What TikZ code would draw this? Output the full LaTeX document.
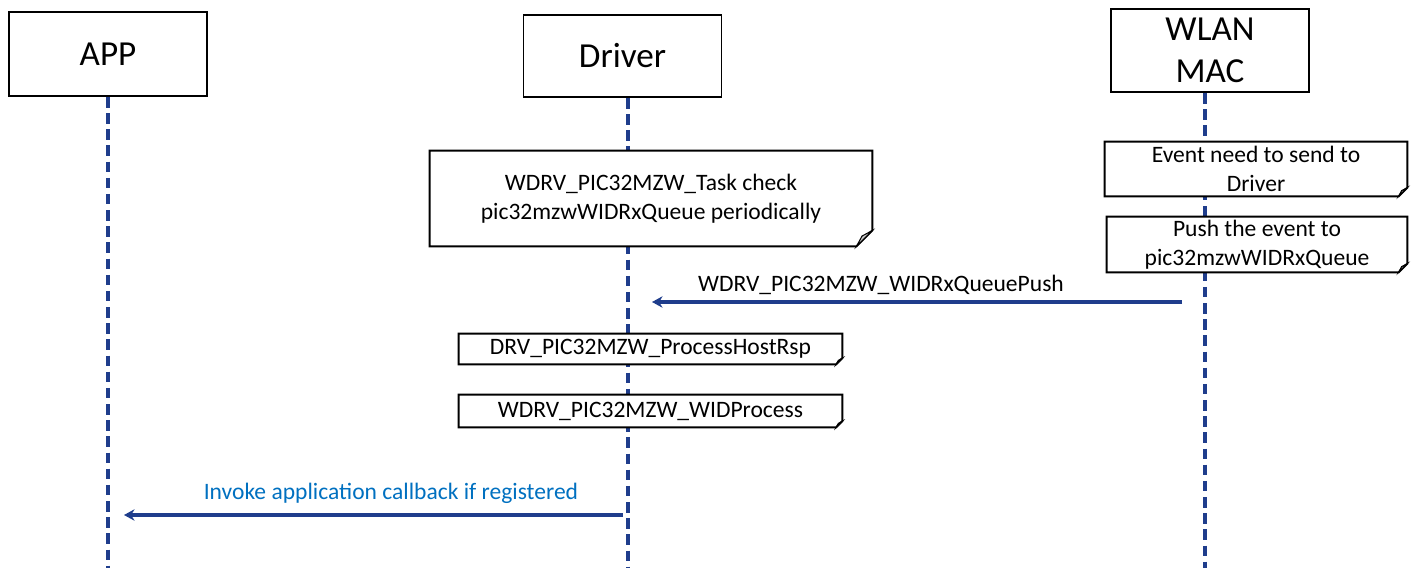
\documentclass[tikz,border=0pt]{standalone}
\usepackage{fontspec}
\setmainfont{Carlito}
\usetikzlibrary{arrows.meta}
\definecolor{lifeblue}{HTML}{1F3D8C}
\definecolor{textblue}{HTML}{0070C0}
\newcommand*\dogear[2]{
	\draw[line width=1.1pt] (#1.north west) -- (#1.north east) -- ([yshift=#2]#1.south east) -- ([xshift=-#2]#1.south east) -- (#1.south west) -- cycle;
	\draw[line width=0.6pt,fill=black!22] ([yshift=#2]#1.south east) -- ([xshift=-0.65*#2,yshift=0.65*#2]#1.south east) -- ([xshift=-#2]#1.south east) -- cycle;}

\begin{document}
\begin{tikzpicture}[x=0.02cm,y=-0.02cm,>={Stealth[length=6pt,width=6.5pt]},
	head/.style={shape=rectangle,draw,line width=1.1pt,minimum width=3.96cm,inner sep=0pt,font=\fontsize{20}{23.8}\selectfont,align=center},
	note/.style={shape=rectangle,fill=white,inner sep=0pt,font=\fontsize{13.4}{16.2}\selectfont,align=center},
	lbl/.style={font=\fontsize{13.4}{16.2}\selectfont},
	lifeline/.style={draw=lifeblue,line width=2.2pt,dash pattern=on 6pt off 3.2pt},
	msg/.style={lifeblue,line width=2.2pt}]
					\useasboundingbox (0,0) rectangle (1414,568);
					
					\node (app) [head,minimum height=1.68cm] at (108,54) {APP};
					\node (driver) [head,minimum height=1.64cm] at (622.5,56) {Driver};
					\node (wlanmac) [head,minimum height=1.66cm] at (1210,50.5) {WLAN\\MAC};
					
					% lifelines
					\coordinate (append) at (108,568);
					\coordinate (drvend) at (628,568);
					\coordinate (macend) at (1205,568);
					\draw[lifeline] (app.south) -- (append);
					\draw[lifeline] (driver.south -| drvend) -- (drvend);
					\draw[lifeline] (wlanmac.south -| macend) -- (macend);
					
					% notes
					\node (taskcheck) [note,minimum width=8.84cm,minimum height=1.9cm] at (651,198.5) {WDRV\_PIC32MZW\_Task check\\pic32mzwWIDRxQueue periodically};
					\dogear{taskcheck}{9pt}
					\node (eventneed) [note,minimum width=6.04cm,minimum height=1.08cm] at (1256,169) {Event need to send to\\Driver};
					\dogear{eventneed}{5pt}
					\node (pushevent) [note,minimum width=6cm,minimum height=1.1cm] at (1257,244.5) {Push the event to\\pic32mzwWIDRxQueue};
					\dogear{pushevent}{5pt}
					\node (hostrsp) [note,minimum width=7.66cm,minimum height=0.6cm] at (650.5,349) {DRV\_PIC32MZW\_ProcessHostRsp};
					\dogear{hostrsp}{3.5pt}
					\node (widproc) [note,minimum width=7.66cm,minimum height=0.64cm] at (650.5,411) {WDRV\_PIC32MZW\_WIDProcess};
					\dogear{widproc}{3.5pt}
					
					% messages
					\coordinate (pushsrc) at (1182,302);
					\coordinate (pushdst) at (652,302);
					\coordinate (cbsrc) at (623,515);
					\coordinate (cbdst) at (124,515);
					\path[->,msg] (pushsrc) edge node[lbl,above,pos=.568,text=black] {WDRV\_PIC32MZW\_WIDRxQueuePush} (pushdst);
					\path[->,msg] (cbsrc) edge node[lbl,above=2pt,pos=.465,text=textblue] {Invoke application callback if registered} (cbdst);
				\end{tikzpicture}
\end{document}
